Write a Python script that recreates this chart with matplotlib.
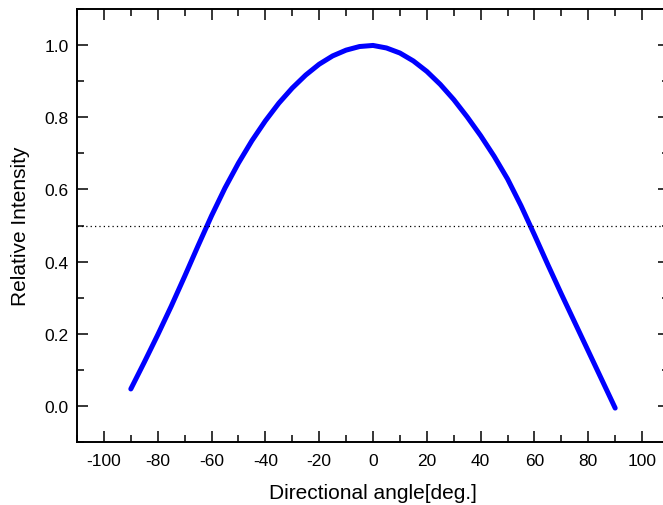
import numpy as np
import matplotlib
matplotlib.use("Agg")
import matplotlib.pyplot as plt
from matplotlib.ticker import MultipleLocator

plt.rcParams['font.family'] = ['Liberation Sans', 'DejaVu Sans']

# directional pattern (every 5 deg)
angle = [-90, -85, -80, -75, -70, -65, -60, -55, -50, -45, -40, -35, -30, -25,
         -20, -15, -10, -5, 0, 5, 10, 15, 20, 25, 30, 35, 40, 45, 50, 55, 60,
         65, 70, 75, 80, 85, 90]
intensity = [0.047, 0.121, 0.197, 0.276, 0.359, 0.444, 0.527, 0.604, 0.673,
             0.735, 0.790, 0.839, 0.881, 0.917, 0.947, 0.970, 0.986, 0.996,
             0.999, 0.992, 0.978, 0.956, 0.927, 0.891, 0.849, 0.801, 0.749,
             0.692, 0.629, 0.555, 0.474, 0.391, 0.310, 0.231, 0.152, 0.073,
             -0.006]
half_level = 0.5

fig = plt.figure(figsize=(6.63, 5.06), dpi=100)
ax = fig.add_axes([77 / 663, 63 / 506, 592 / 663, 433 / 506])

ax.plot(angle, intensity, color='#0000ff', lw=3.6, solid_capstyle='round',
        solid_joinstyle='round')
ax.axhline(half_level, color='black', lw=0.9, ls=(0, (1, 2.5)))

ax.set_xlim(-110, 110)
ax.set_ylim(-0.1, 1.1)
ax.xaxis.set_minor_locator(MultipleLocator(10))
ax.yaxis.set_minor_locator(MultipleLocator(0.1))
ax.set_xticks(range(-100, 101, 20))
ax.set_xticklabels([str(v) for v in range(-100, 101, 20)])
ax.set_yticks([0.0, 0.2, 0.4, 0.6, 0.8, 1.0])
ax.set_yticklabels(['0.0', '0.2', '0.4', '0.6', '0.8', '1.0'])

ax.tick_params(which='both', direction='in', top=True, right=True,
               labelsize=12.5, width=1.1)
ax.tick_params(axis='x', pad=8)
ax.tick_params(axis='y', pad=6)
ax.tick_params(which='major', length=8)
ax.tick_params(which='minor', length=5)
for s in ax.spines.values():
    s.set_linewidth(1.4)

ax.set_xlabel('Directional angle[deg.]', fontsize=15)
ax.set_ylabel('Relative Intensity', fontsize=15)
ax.xaxis.set_label_coords(0.5, -0.095)
ax.yaxis.set_label_coords(-0.079, 0.5)

fig.savefig('out.png', dpi=100)
